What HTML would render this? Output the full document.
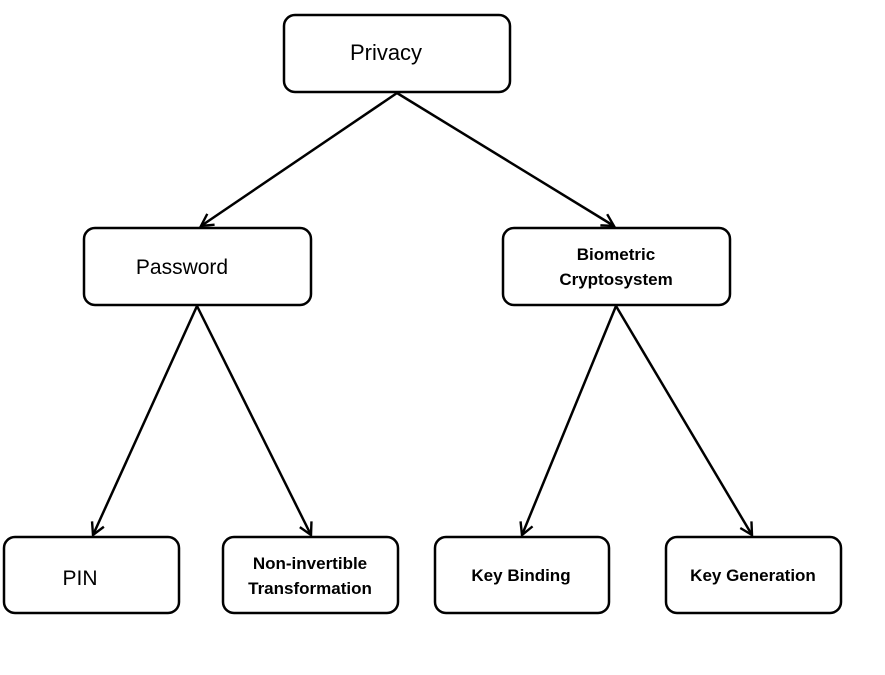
<!DOCTYPE html>
<html><head><style>body{margin:0;background:#fff}svg{display:block}</style></head>
<body>
<svg width="885" height="675" xmlns="http://www.w3.org/2000/svg">
<defs><marker id="a" markerWidth="16" markerHeight="16" refX="13" refY="8" orient="auto" markerUnits="userSpaceOnUse"><path d="M1,1.5 L13,8 L1,14.5" fill="none" stroke="#000" stroke-width="2.4"/></marker></defs>
<g fill="none" stroke="#000" stroke-width="2.5">
<rect x="284" y="15" width="226" height="77" rx="11"/>
<rect x="84" y="228" width="227" height="77" rx="11"/>
<rect x="503" y="228" width="227" height="77" rx="11"/>
<rect x="4" y="537" width="175" height="76" rx="11"/>
<rect x="223" y="537" width="175" height="76" rx="11"/>
<rect x="435" y="537" width="174" height="76" rx="11"/>
<rect x="666" y="537" width="175" height="76" rx="11"/>
<g marker-end="url(#a)">
<line x1="397" y1="93" x2="201" y2="226"/>
<line x1="397" y1="93" x2="614" y2="226"/>
<line x1="197" y1="306" x2="93" y2="535"/>
<line x1="197" y1="306" x2="311" y2="535"/>
<line x1="616" y1="306" x2="522" y2="535"/>
<line x1="616" y1="306" x2="752" y2="535"/>
</g></g>
<g font-family="Liberation Sans, sans-serif" fill="#000" text-anchor="middle">
<text x="386" y="60" font-size="22">Privacy</text>
<text x="182" y="274" font-size="21">Password</text>
<text x="80" y="585" font-size="21">PIN</text>
<g font-weight="bold" font-size="17">
<text x="616" y="260">Biometric</text>
<text x="616" y="285">Cryptosystem</text>
<text x="310" y="569">Non-invertible</text>
<text x="310" y="594">Transformation</text>
<text x="521" y="581">Key Binding</text>
<text x="753" y="581">Key Generation</text>
</g></g>
</svg>
</body></html>
